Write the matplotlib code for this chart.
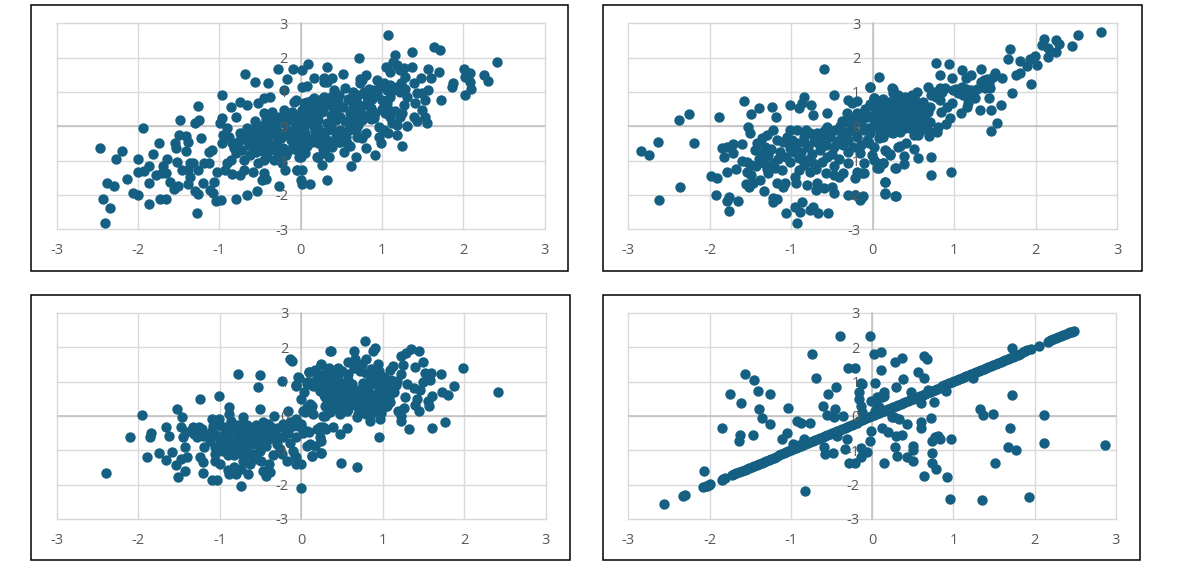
import numpy as np
import matplotlib
matplotlib.use('Agg')
import matplotlib.pyplot as plt
from matplotlib.patches import Rectangle

plt.rcParams['font.family'] = ['Open Sans', 'DejaVu Sans']

ticks = [-3, -2, -1, 0, 1, 2, 3]
tick_labels = ['-3', '-2', '-1', '0', '1', '2', '3']

pts_a = [(-2.47,-0.64),(-2.20,-0.72),(-2.27,-0.95),(-2.0,-0.96),(-2.14,-1.53),(-2.38,-1.64),(-2.30,-1.73),(-2.43,-2.12),
(-2.35,-2.39),(-2.40,-2.81),(-2.06,-1.95),(-2.0,-2.0),(-1.86,-2.26),(-1.86,-1.64),(-2.0,-1.34),(-1.93,-1.29),(-1.86,-1.17),
(-1.94,-0.06),(-1.81,-0.80),(-1.74,-0.49),(-1.64,-0.95),(-1.69,-1.17),(-1.78,-1.41),(-1.71,-1.37),(-1.65,-1.37),(-1.73,-2.12),
(-1.65,-2.11),(-1.61,-1.63),(-1.56,-1.83),(-1.51,-1.73),(-1.39,-1.68),(-1.52,-1.03),(-1.54,-0.50),(-1.53,-0.64),(-1.49,-0.24),
(-1.41,-0.28),(-1.38,-0.45),(-1.41,-0.72),(-1.48,0.17),(-1.30,0.11),(-1.25,0.17),(-1.26,0.59),(-1.23,-0.33),(-1.46,-1.27),
(-1.39,-1.27),(-1.36,-1.08),(-1.32,-1.08),(-1.36,-1.47),(-1.26,-1.27),(-1.19,-1.06),(-1.13,-1.08),(-1.20,-1.64),(-1.30,-1.87),
(-1.26,-1.96),(-1.28,-2.53),(-1.11,-1.85),(-1.08,-1.95),(-1.07,-1.61),(-1.04,-2.19),(-0.98,-2.15),(-0.79,-2.12),(-0.66,-2.0),
(-0.54,-1.87),(-0.27,-1.73),(-0.43,-1.53),(-0.47,-1.57),(-0.58,-1.34),(-0.45,-1.37),(-0.19,-1.27),(-0.05,-1.27),(0.02,-1.27),
(0,-1.56),(0.02,-1.69),(0.12,-1.68),(0.33,-1.57),(0.26,-1.13),(-1.13,-0.74),(-1.09,-0.69),(-0.97,0.90),(-0.69,1.52),(-0.56,1.29),
(-0.40,1.25),(-0.28,1.68),(-0.17,1.37),(-0.09,1.68),(0.02,1.64),(0.09,1.81),(0.16,1.41),(0.33,1.72),(0.08,1.17),(0.29,1.4),
(-0.97,0.23),(-0.99,0.11),(-0.91,-0.06),(-0.95,-0.25),(-0.97,-0.50),(-0.84,-0.50),(-0.86,0.57),(-0.80,0.28),(-0.74,0.72),
(-0.66,0.62),(-0.53,0.67),(-0.45,0.82),(-0.38,0.86),(-0.21,1.06),(-0.08,0.72),(-0.91,-1.08),(-0.86,-0.98),(-1.03,-1.32),
(-0.93,-1.27),(-0.84,-1.39),(-0.74,-1.42),(-0.70,-1.27),(-0.80,-0.79),(-0.70,-0.98),(-0.62,-0.83),(-0.74,-0.20),(-0.66,-0.06),
(-0.56,0.14),(-0.45,0.38),(-0.35,0.43),(-0.21,0.48),(-0.12,0.18),(-0.66,-0.40),(-0.53,-0.40),(-0.49,-0.59),(-0.58,-0.64),
(-0.41,-0.30),(-0.37,-0.01),(-0.29,0.09),(-0.21,-0.20),(-0.29,-0.40),(-0.12,-0.40),(-0.41,-0.88),(-0.33,-0.98),(-0.23,-1.08),
(-0.53,-1.08),(-0.45,-0.98),(-0.02,-0.88),(0.06,-0.79),(0,-0.59),(0.06,-0.40),(-0.04,-0.20),(0.04,-0.01),(-0.04,0.18),(0.08,0.38),
(0.04,0.67),(0.14,0.77),(0.25,0.57),(0.29,0.86),(0.21,0.38),(0.16,-0.01),(0.21,-0.40),(0.29,-0.20),(0.21,-0.88),(0.31,-0.64),
(1.07,2.65),(1.64,2.30),(1.72,2.22),(1.37,2.15),(1.16,2.07),(0.72,2.0),(2.42,1.87),(1.05,1.74),(1.37,1.72),(1.57,1.68),(1.70,1.57),
(2.01,1.66),(2.08,1.54),(2.25,1.49),(2.31,1.33),(2.10,1.10),(2.02,0.90),(1.87,1.25),(1.86,1.14),(1.73,0.76),(2.08,1.30),(2.02,1.45),
(0.52,1.52),(0.80,1.49),(0.73,1.38),(0,-0.11),(-0.08,-0.59),(0,-0.88),(-0.04,-1.27),(0.20,-0.88),(0.29,-0.79),(0.35,-0.88),(0.39,-0.59),
(0.47,-0.45),(0.53,-0.74),(0.61,-0.56),(0.68,-0.88),(0.62,-1.15),(0.80,-0.64),(0.91,-0.83),(0.99,-0.48),(1.25,-0.56),(1.18,-0.25),
(1.31,0.01),(1.56,0.09),(1.43,0.14),(1.53,0.28),(1.39,0.26),(1.49,0.48),(1.41,0.67),(1.31,0.86),(1.27,0.62),(1.22,0.28),(1.10,0.28),
(1.02,-0.11),(0.96,-0.01),(0.96,-0.30),(1.08,-0.20),(1.18,0.04),(1.04,0.38),(1.06,0.67),(1.0,0.77),(1.10,0.86),(0.90,0.23),(0.86,0.52),
(0.82,0.33),(0.80,-0.20),(0.69,-0.30),(0.76,-0.35),(0.71,0.04),(0.61,0.04),(0.55,-0.16),(0.49,-0.11),(0.71,0.38),(0.61,0.38),(0.69,0.67),
(0.61,0.77),(0.65,1.01),(0.82,0.86),(0.90,1.06),(0.76,1.35),(0.73,1.25),(0.94,1.35),(1.02,1.25),(1.10,1.20),(1.18,1.15),(1.24,1.25),
(1.29,1.45),(1.27,1.69),(1.18,1.79),(1.14,1.88),(1.22,1.64),(1.10,1.59),(1.40,1.25),(1.48,1.40),(1.61,1.40),(1.57,1.06),(1.43,0.96),
(1.53,0.77),(1.49,0.96),(0.55,1.11),(0.41,1.06),(0.47,0.91),(0.37,0.86),(0.27,0.82),(0.16,0.82),(0.08,0.72),(-0.06,0.77),(0.29,1.30),
(0.39,1.40),(0.33,1.30),(0.41,0.57),(0.49,0.57),(0.37,0.33),(0.43,0.18),(0.37,-0.01),(0.29,0.57),(0.18,0.48),(0.10,0.38),(0.12,0.09),
(0.04,0.18),(0.22,-0.06),(0.29,-0.20),(0.16,-0.30),(0.33,-0.40),(0.22,-0.50),(0.43,-0.30),(0.49,0.28),(0.57,-0.50),(0.29,-0.59),
(0.04,-0.40),(0.06,-0.59),(0.02,1.14),(-0.42,0.10),(-0.50,-0.20),(-0.60,-0.30),(-0.25,-0.70),(-0.05,-0.70),(-0.15,-0.10)]

# the packed middle of the first cloud
dense_a = [(-0.88,-0.30),(-0.82,-0.62),(-0.76,-0.42),(-0.72,-0.68),(-0.68,-0.22),(-0.64,-0.55),(-0.60,-0.12),(-0.58,-0.47),(-0.55,-0.75),(-0.52,-0.18),
(-0.50,0.02),(-0.48,-0.46),(-0.46,-0.72),(-0.44,-0.10),(-0.42,0.22),(-0.40,-0.50),(-0.38,-0.70),(-0.36,-0.22),(-0.34,0.20),(-0.32,-0.55),(-0.30,-0.10),
(-0.28,-0.80),(-0.26,0.28),(-0.24,-0.35),(-0.22,-0.62),(-0.20,0.10),(-0.18,-0.85),(-0.16,0.30),(-0.14,-0.25),(-0.12,-0.65),(-0.10,0.42),(-0.08,-0.30),
(-0.06,0.05),(-0.04,-0.50),(-0.02,0.32),(0.0,-0.30),(0.02,0.48),(0.04,0.20),(0.06,-0.20),(0.08,-0.58),(0.10,0.60),(0.12,0.15),(0.14,-0.45),(0.16,0.40),
(0.18,-0.15),(0.20,0.65),(0.22,0.18),(0.24,-0.30),(0.26,0.42),(0.28,-0.65),(0.30,0.72),(0.32,0.10),(0.34,-0.10),(0.36,0.62),(0.38,-0.55),(0.40,0.80),
(0.42,0.40),(0.44,-0.20),(0.46,0.70),(0.48,-0.45),(0.52,0.55),(0.54,0.15),(0.56,-0.30),(0.58,0.80),(0.60,-0.10),(0.64,0.55),(0.66,0.20),(0.68,-0.12),
(0.70,0.90),(0.74,0.55),(0.76,0.18),(0.78,1.00),(0.80,0.65),(0.84,1.10),(0.86,0.20),(0.88,0.80),(0.92,0.40),(0.94,0.95),(0.98,1.15),(1.00,0.50),
(1.06,1.05),(1.08,0.50),(1.12,0.10),(1.14,1.05),(1.16,0.45),(1.22,1.00),(1.25,0.40),(1.28,1.10)]

pts_b = [(-2.85,-0.72),(-2.74,-0.83),(-2.64,-0.45),(-2.62,-2.15),(-2.38,0.17),(-2.25,0.36),(-2.20,-0.50),(-2.36,-1.76),(-1.89,0.28),
(-1.58,0.75),(-1.50,0.36),(-1.40,0.52),(-1.24,0.55),(-1.19,0.28),(-1.53,-0.02),(-1.51,-0.20),(-1.85,-0.64),(-1.79,-0.61),(-1.71,-0.51),
(-1.61,-0.52),(-1.83,-0.90),(-1.71,-0.77),(-1.99,-1.45),(-1.91,-1.50),(-1.79,-1.33),(-1.68,-1.25),(-1.93,-2.0),(-1.77,-2.05),(-1.79,-2.19),
(-1.66,-2.18),(-1.76,-2.46),(-1.61,-1.0),(-1.54,-1.03),(-1.50,-1.13),(-1.54,-1.32),(-1.50,-1.42),(-1.43,-1.17),(-1.55,-1.69),(-1.52,-1.76),
(-1.47,-1.64),(-1.38,-1.56),(-1.34,-1.87),(-1.22,-2.08),(-1.18,-2.13),(-1.23,-2.21),(-1.06,-2.53),(-0.93,-2.82),(-0.95,-2.36),(-0.87,-2.21),
(-0.89,-2.49),(-0.77,-2.44),(-0.73,-2.34),(-0.67,-2.53),(-0.55,-2.53),(-1.18,-1.64),(-1.10,-1.76),(-1.08,-1.64),(-1.28,-1.37),(-1.20,-1.22),
(-1.11,-1.27),(-1.22,-1.08),(-1.34,-1.08),(-1.28,-0.83),(-1.38,-0.79),(-1.42,-0.50),(-1.32,-0.59),(-1.30,-0.25),(-1.22,-0.11),(-1.18,-0.40),
(-1.10,-0.45),(-1.14,-0.74),(-1.06,-0.88),(-1.01,-0.11),(-0.99,-0.40),(-1.01,-0.64),(-0.93,-0.11),(-0.85,-0.30),(-0.77,-0.20),(-0.79,-0.59),
(-0.69,-0.20),(-0.67,-0.50),(-0.56,-0.01),(-0.52,-0.30),(-0.48,-0.59),(-0.65,-0.69),(-0.56,-0.88),(-0.73,-1.08),(-0.81,-0.98),(-0.91,-0.93),
(-0.85,-1.13),(-0.91,-1.27),(-0.77,-1.32),(-0.95,-1.47),(-0.94,-1.64),(-0.81,-1.72),(-0.69,-1.64),(-0.70,-1.85),(-0.60,-1.81),(-0.50,-1.78),
(-0.48,-1.95),(-0.58,-1.37),(-0.48,-1.17),(-0.42,-1.47),(-0.36,-1.37),(-0.48,-1.42),(-0.31,-2.0),(-0.22,-2.0),(-0.12,-2.02),(-0.16,-2.15),
(-0.22,-1.51),(-0.11,-1.37),(-0.20,-1.32),(-0.30,-1.08),(-0.11,-1.08),(-0.30,-0.74),(-0.24,-0.59),(-0.16,-0.79),(-0.01,-0.83),(0.05,-1.08),
(0.13,-1.08),(0.07,-1.22),(0.15,-1.61),(0.15,-1.95),(0.27,-2.02),(0.27,-1.22),(0.21,-0.83),(0.16,-0.71),(0.31,-0.59),(0.01,-0.59),(-1.01,0.62),
(-0.91,0.52),(-0.84,0.84),(-0.87,0.67),(-0.76,0.62),(-0.73,0.33),(-0.56,0.40),(-0.47,0.91),(-0.60,1.67),(-0.30,0.77),(-0.20,0.75),(-0.26,0.67),
(-0.04,1.14),(0.07,1.45),(0.25,1.08),(0.02,0.82),(0.12,0.79),(0.25,0.96),(-0.32,0.38),(-0.20,0.38),(-0.38,0.14),(-0.24,0.09),(-0.32,-0.16),
(-0.20,-0.30),(-0.07,-0.40),(-0.11,-0.11),(-0.03,-0.20),(0.01,0.04),(-0.07,0.28),(0.05,0.38),(0.01,0.57),(0.13,0.57),(0.21,0.38),(0.17,0.09),
(0.09,-0.16),(0.25,-0.20),(0.29,0.09),(0.13,-0.30),(0.29,0.57),(2.80,2.76),(2.52,2.65),(2.44,2.33),(2.10,2.55),(2.25,2.50),(2.28,2.39),
(2.08,2.37),(2.15,2.27),(2.25,2.15),(2.15,2.03),(1.68,2.26),(1.66,1.95),(1.80,1.91),(1.93,1.95),(1.99,2.05),(2.01,1.78),(1.89,1.76),(1.81,1.54),
(1.76,1.49),(1.94,1.22),(1.71,0.98),(1.57,0.63),(1.45,0.48),(1.53,0.09),(1.45,-0.15),(1.31,0.48),(1.08,0.40),(1.15,0.55),(1.17,0.67),(1.25,0.82),
(1.21,1.06),(1.42,0.82),(1.44,1.11),(1.38,1.11),(1.33,1.30),(1.40,1.37),(1.50,1.56),(1.48,1.44),(1.59,1.40),(1.33,1.68),(1.21,1.49),(1.14,1.42),
(1.09,1.64),(0.97,1.40),(0.93,1.81),(0.77,1.84),(0.83,1.49),(0.99,1.06),(1.09,1.14),(1.11,0.91),(1.19,0.82),(0.82,1.11),(0.68,1.14),(0.72,0.91),
(0.82,0.77),(0.97,0.67),(0.91,0.55),(0.84,0.43),(0.95,0.24),(0.90,0.07),(0.80,-0.01),(0.79,-0.18),(0.69,-0.28),(0.71,-0.16),(0.56,-0.25),(0.50,-0.25),
(0.72,-0.90),(0.56,-0.91),(0.50,-0.67),(0.41,-0.50),(0.33,-0.57),(0.38,-0.86),(0.38,-1.10),(0.28,-1.22),(0.72,-1.41),(0.96,-1.33),(0.15,-1.61),
(0.15,-1.96),(0.28,-2.02),(0.21,-0.81),(0.15,-0.69),(0.13,-1.08),(0.05,-1.22),(0.01,-0.98),(-0.13,-1.37),(-0.13,-2.05),(-0.04,1.14),(0.24,1.11),
(0.31,0.91),(0.40,0.86),(0.54,1.01),(0.48,0.91),(0.01,0.82),(0.11,0.77),(0.05,0.52),(0.25,0.67),(0.38,0.57),(0.56,0.57),(0.62,0.57),(0.68,0.43),
(0.62,0.28),(0.52,0.28),(0.38,0.18),(0.25,0.33),(0.13,0.28),(0.01,0.18),(-0.09,0.38),(0.09,-0.06),(-0.03,-0.16),(0.21,-0.16),(0.33,-0.16),
(0.46,-0.06),(0.54,0.04),(0.07,-0.35),(-0.05,-0.50),(0.25,0.09)]

dense_b = [(-1.45,-0.70),(-1.40,-0.95),(-1.36,-0.35),(-1.30,-1.25),(-1.25,-0.65),(-1.16,-0.95),(-1.05,-0.30),(-1.02,-1.05),(-0.97,-0.75),(-0.93,-0.50),
(-0.88,-0.75),(-0.84,-0.45),(-0.82,-0.12),(-0.75,-0.80),(-0.72,-0.42),(-0.70,-1.25),(-0.64,-0.30),(-0.62,-1.05),(-0.60,-0.15),(-0.58,-0.55),(-0.54,-0.18),
(-0.50,-0.80),(-0.46,-0.10),(-0.44,-0.42),(-0.42,-0.95),(-0.40,0.02),(-0.38,-0.25),(-0.36,-0.55),(-0.34,0.12),(-0.30,-0.40),(-0.28,0.25),(-0.26,-0.05),
(-0.22,-0.18),(-0.18,0.20),(-0.14,-0.55),(-0.14,0.10),(-0.10,0.50),(-0.06,-0.05),(-0.04,0.65),(-0.02,0.30),(0.03,0.15),(0.03,0.75),(0.07,-0.02),(0.08,0.55),
(0.10,0.22),(0.15,0.42),(0.16,-0.10),(0.18,0.72),(0.20,0.15),(0.22,0.50),(0.23,-0.05),(0.26,0.80),(0.28,0.30),(0.30,-0.10),(0.32,0.62),(0.34,0.10),(0.35,0.42),
(0.38,0.80),(0.40,-0.05),(0.42,0.30),(0.44,0.65),(0.46,0.12),(0.48,0.45),(0.50,-0.15),(0.52,0.78),(0.54,0.20),(0.56,0.40),(0.58,-0.15),(0.60,0.10),(0.62,0.72),
(0.64,0.35),(0.65,-0.05),(0.70,0.55),(0.70,0.12),(0.75,1.0),(0.78,0.85),(0.85,1.0),(0.88,1.12),(1.02,1.10),(1.14,1.10),(1.15,0.85),(1.05,0.98),(1.22,0.90),
(1.28,1.08),(1.36,1.35),(1.42,1.25)]

pts_c = [(-2.39,-1.67),(-2.10,-0.62),(-1.95,0.03),(-1.86,-0.62),(-1.84,-0.50),(-1.89,-1.20),(-1.74,-1.09),(-1.66,-0.31),(-1.62,-0.58),(-1.66,-1.28),
(-1.59,-1.06),(-1.54,-1.43),(-1.51,-1.79),(-1.43,-1.59),(-1.52,0.19),(-1.46,-0.04),(-1.47,-0.33),(-1.24,0.50),(-1.01,0.57),(-0.89,0.27),(-0.78,1.23),
(-0.51,1.19),(-0.53,0.84),(-0.51,0.19),(-0.23,1.01),(-0.14,1.65),(-0.11,1.59),(-0.03,1.12),(-0.06,0.88),(-0.16,0.14),(-0.33,-0.01),(-0.74,-2.05),
(0,-2.09),(-1.10,-1.86),(-1.03,-1.86),(-1.20,-1.66),(-1.21,-1.35),(-1.24,-1.20),(-1.45,-0.62),(-1.41,-0.48),(-1.43,-0.91),(-1.40,-1.20),(-1.47,-1.25),
(-1.33,-0.33),(-1.25,-0.33),(-1.31,-0.52),(-1.21,-0.57),(-1.19,-0.91),(-1.10,-0.09),(-1.01,-0.09),(-1.10,-0.43),(-1.00,-0.67),(-1.06,-0.91),(-1.06,-1.11),
(-1.06,-1.30),(-1.00,-1.40),(-0.96,-1.01),(-0.88,-0.96),(-0.88,0.06),(-0.86,-0.14),(-0.92,-0.33),(-0.79,-0.43),(-0.88,-0.62),(-0.76,-0.72),(-0.82,-0.91),
(-0.72,-0.04),(-0.72,-0.33),(-0.63,-0.52),(-0.67,-0.91),(-0.59,-1.11),(-0.71,-1.30),(-0.63,-1.40),(-0.74,-1.54),(-0.65,-1.69),(-0.80,-1.69),(-0.88,-1.69),
(-0.90,-1.57),(-0.82,-1.50),(-0.49,-1.30),(-0.47,-1.59),(-0.43,-1.74),(-0.38,-1.64),(-0.39,-1.40),(-0.51,-1.01),(-0.43,-0.86),(-0.51,-0.62),(-0.43,-0.43),
(-0.47,-0.18),(-0.41,-0.23),(-0.32,-0.52),(-0.30,-0.82),(-0.22,-0.23),(-0.22,-0.62),(-0.24,-1.11),(-0.18,-1.30),(-0.06,-1.20),(-0.06,-1.40),(0,-1.40),
(-0.10,-1.01),(-0.14,-0.18),(-0.06,-0.09),(0,-0.28),(0.09,-0.48),(-0.06,-0.62),(0.07,-0.86),(0.13,-1.16),(0.17,-0.86),(0.24,-1.08),(0.23,-0.62),(0.19,-0.38),
(0.27,-0.33),(0.29,0.01),(0.15,0.06),(0.07,0.25),(0.13,0.30),(0.02,0.16),(0,0.50),(0.04,0.69),(0.07,0.98),(0.09,1.27),(0.17,1.32),(0.24,1.50),(0.33,1.37),
(0.35,1.88),(0.15,0.98),(0.23,0.74),(0.29,0.54),(0.31,0.30),(0.19,1.08),(0.31,1.03),(2.42,0.69),(1.99,1.39),(1.87,0.88),(1.71,1.22),(1.73,0.69),(1.80,0.61),
(1.76,-0.17),(1.60,-0.35),(1.32,-0.39),(0.95,-0.62),(0.49,-1.36),(0.68,-1.48),(0.78,2.19),(0.37,1.89),(0.65,1.89),(0.88,1.90),(0.90,1.99),(1.35,1.95),
(1.28,1.84),(1.22,1.74),(1.44,1.89),(1.49,1.56),(1.40,1.44),(1.25,1.48),(1.13,1.47),(1.09,1.34),(1.52,1.24),(1.59,1.25),(1.58,1.05),(1.49,0.98),(1.46,0.76),
(1.61,0.57),(1.55,0.45),(1.57,0.30),(1.42,0.50),(1.40,0.33),(1.44,0.14),(1.26,0.23),(1.19,0.16),(1.23,-0.14),(1.23,0.01),(1.38,0.83),(1.27,0.54),(1.30,0.93),
(1.23,1.22),(1.17,1.03),(1.09,0.74),(1.09,0.40),(1.03,0.50),(1.01,0.25),(0.97,-0.09),(0.84,-0.14),(0.80,0.05),(0.70,0.06),(0.68,-0.04),(0.56,-0.35),(0.48,-0.52),
(0.39,-0.33),(0.24,-0.72),(0.24,-1.08),(0.13,-1.16),(-0.08,-1.16),(0.11,-0.82),(0.07,-0.43),(0,-0.23),(0.23,-0.33),(0.31,-0.38),(0.27,0.01),(0.35,0.11),
(0.48,0.06),(0.58,0.20),(0.11,0.20),(0.05,0.11),(-0.06,0.90),(-0.04,1.13),(0.09,1.27),(0.17,1.35),(0.24,1.49),(0.34,1.40),(0.45,1.40),(0.58,1.56),(0.66,1.66),
(0.80,1.66),(0.94,1.50),(0.86,1.37),(0.72,1.32),(0.58,1.22),(0.45,1.13),(0.33,1.13),(0.21,1.03),(0.07,0.93),(0.15,0.88),(0.27,0.79),(0.37,0.88),(0.50,0.83),
(0.62,0.93),(0.74,0.83),(0.84,1.03),(0.95,1.13),(1.03,0.98),(0.95,0.79),(0.84,0.64),(0.72,0.45),(0.64,0.54),(0.52,0.40),(0.39,0.40),(0.31,0.59),(0.35,0.74),
(0.46,0.59),(0.91,0.45),(0.97,0.30),(0.84,0.30),(0.78,0.54),(1.03,0.69),(0.93,0.16),(0.29,0.30),(0.39,0.20),(0.11,0.35)]

dense_c = [(-1.35,-0.45),(-1.28,-0.62),(-1.22,-0.38),(-1.15,-0.55),(-1.12,-0.72),(-1.08,-0.28),(-1.04,-0.55),(-1.00,-0.88),(-0.98,-0.30),(-0.94,-0.52),
(-0.92,-0.78),(-0.90,-1.15),(-0.86,-0.35),(-0.84,-0.70),(-0.82,-1.15),(-0.78,-0.25),(-0.76,-0.55),(-0.74,-0.95),(-0.72,-1.15),(-0.70,-0.50),(-0.68,-0.75),
(-0.66,-0.25),(-0.64,-0.70),(-0.62,-1.15),(-0.60,-0.40),(-0.58,-0.82),(-0.56,-0.25),(-0.56,-0.60),(-0.54,-1.25),(-0.50,-0.45),(-0.48,-0.78),(-0.46,-0.30),
(-0.45,-0.55),(-0.40,-0.68),(-0.38,-0.28),(-0.36,-0.48),(-0.34,-1.15),(-0.30,-0.35),(-0.28,-0.60),(-0.26,-0.95),(-0.20,-0.38),(-0.16,-0.50),(-0.14,-0.80),
(-0.10,-0.28),(-0.04,-0.30),(0.02,-0.50),(0.20,0.85),(0.25,1.20),(0.28,0.60),(0.32,0.95),(0.36,0.60),(0.38,1.20),(0.40,0.78),(0.42,1.00),(0.44,0.45),(0.46,0.95),
(0.48,0.72),(0.50,1.30),(0.50,0.50),(0.54,0.95),(0.55,0.70),(0.56,0.15),(0.58,1.05),(0.60,0.65),(0.62,0.40),(0.65,1.40),(0.66,0.75),(0.68,0.30),(0.72,0.60),
(0.74,1.50),(0.76,0.95),(0.78,0.72),(0.80,1.25),(0.82,0.45),(0.84,0.90),(0.86,1.20),(0.88,0.60),(0.90,0.25),(0.92,0.95),(0.94,0.65),(0.96,1.30),(0.98,0.45),
(1.00,0.80),(1.02,1.15),(1.05,0.30),(1.06,0.85),(1.08,0.55),(1.10,1.05),(1.14,0.70),(1.16,0.90),(0.98,0.10),(0.86,0.05),(0.76,0.20),(0.52,0.22),(0.44,0.25)]

# points sitting on the diagonal, x and y read as the same value
diag_d = [-2.56,-2.33,-2.30,-2.08,-2.05,-2.03,-2.01,-1.99,-1.85,-1.83,-1.81,-1.73,-1.70,-1.67,-1.64,-1.60,-1.57,-1.54,-1.51,-1.48,-1.45,-1.42,-1.39,-1.36,
-1.33,-1.30,-1.27,-1.24,-1.21,-1.18,-1.15,-1.12,-1.09,-1.06,-1.03,-1.00,-0.97,-0.94,-0.91,-0.88,-0.85,-0.82,-0.79,-0.76,-0.73,-0.70,-0.67,-0.64,-0.61,-0.58,
-0.55,-0.52,-0.49,-0.46,-0.43,-0.40,-0.37,-0.34,-0.31,-0.28,-0.25,-0.22,-0.19,-0.16,-0.13,-0.10,-0.07,-0.04,-0.01,0.02,0.05,0.08,0.11,0.14,0.17,0.20,0.23,0.26,
0.29,0.32,0.35,0.38,0.41,0.44,0.47,0.50,0.53,0.56,0.59,0.62,0.65,0.68,0.71,0.74,0.77,0.80,0.83,0.86,0.89,0.92,0.95,0.98,1.01,1.04,1.07,1.10,1.13,1.16,1.19,1.22,
1.25,1.28,1.31,1.34,1.37,1.40,1.43,1.46,1.49,1.52,1.55,1.58,1.61,1.64,1.67,1.70,1.73,1.76,1.79,1.82,1.85,1.88,1.91,1.95,2.05,2.16,2.18,2.20,2.23,2.26,2.29,2.32,
2.35,2.38,2.41,2.44,2.46,2.48]

pts_d = [(-2.07,-1.59),(-0.82,-2.17),(-1.85,-0.35),(-1.62,-0.54),(-1.64,-0.74),(-1.46,-0.54),(-1.26,-0.24),(-1.36,-0.05),(-1.39,0.19),(-1.61,0.38),(-1.75,0.65),
(-1.56,1.23),(-1.45,1.04),(-1.41,0.73),(-1.26,0.65),(-1.03,0.23),(-1.11,-0.66),(-1.05,-0.50),(-0.92,-0.16),(-0.88,-0.19),(-0.77,-0.19),(-0.74,1.82),(-0.69,1.12),
(-0.54,0.65),(-0.44,0.84),(-0.60,0.30),(-0.55,0.03),(-0.46,0.19),(-0.47,-0.04),(-0.36,-0.01),(-0.39,2.32),(-0.03,2.32),(-0.30,1.39),(-0.21,1.39),(0.02,1.82),
(0.11,1.85),(0.28,1.58),(0.11,1.35),(-0.14,0.96),(0.03,0.96),(-0.16,0.69),(-0.16,0.50),(-0.14,0.30),(-0.12,0.11),(0.29,0.84),(0.14,0.69),(0.06,0.54),(-0.02,0.45),
(0.12,0.54),(0.06,0.30),(0.27,-0.04),(0.12,-0.35),(0.19,-0.47),(0.29,-0.58),(-0.02,-0.43),(-0.03,-0.74),(-0.31,-0.66),(-0.34,-0.97),(-0.43,-0.57),(-0.59,-0.89),
(-0.58,-1.11),(-0.48,-1.09),(-0.29,-1.36),(-0.21,-1.36),(-0.14,-1.20),(-0.14,-0.93),(-0.06,-1.06),(0.15,-1.36),(0.28,-0.89),(0.31,-1.17),(0.37,1.70),(0.64,1.75),
(0.68,1.65),(0.56,1.27),(0.64,1.12),(0.38,1.08),(0.48,0.71),(0.60,0.38),(0.76,0.42),(0.73,-0.05),(0.43,-0.24),(0.33,-0.09),(0.24,-0.02),(0.60,-0.18),(0.60,-0.35),
(0.37,-0.54),(0.50,-0.86),(0.50,-0.99),(0.43,-1.20),(0.50,-1.32),(0.74,-1.09),(0.74,-1.36),(0.79,-1.55),(0.64,-1.75),(0.92,-1.79),(0.96,-2.41),(1.35,-2.45),(1.93,-2.37),
(1.51,-1.36),(1.67,-0.89),(1.77,-0.99),(1.69,-0.35),(2.11,-0.78),(2.11,0.03),(1.49,0.07),(1.33,0.19),(1.36,0.03),(1.72,0.61),(2.87,-0.85),(1.72,1.97),(0.74,-0.72),
(0.81,-0.59),(0.83,-0.67),(0.77,-0.62),(0.97,-0.66),(0.91,0.74),(1.24,1.11),(0.69,0.76),(0.49,0.54),(-0.13,0.93),(0.04,0.45),(0.10,0.54),(0.14,0.59),(0.04,0.16),
(0.08,0.25),(-0.97,-0.83),(-0.90,-0.85),(-0.84,-0.67)]

fig = plt.figure(figsize=(12, 5.72), dpi=100)
W, H = 1200, 572


def add_panel(frame, area, xy):
    # frame and area given as left, right, top, bottom in pixels from the top left corner
    fig.add_artist(Rectangle((frame[0]/W, 1-frame[3]/H), (frame[1]-frame[0])/W, (frame[3]-frame[2])/H,
                             transform=fig.transFigure, fill=False, ec='black', lw=1.1))
    ax = fig.add_axes([area[0]/W, 1-area[3]/H, (area[1]-area[0])/W, (area[3]-area[2])/H])
    ax.patch.set_alpha(0)
    for t in ticks:
        ax.axvline(t, color='#d9d9d9', lw=1.0, zorder=0, clip_on=False)
        ax.axhline(t, color='#d9d9d9', lw=1.0, zorder=0, clip_on=False)
    ax.axhline(0, color='#bfbfbf', lw=1.1, zorder=0.5)
    ax.scatter(xy[0], xy[1], s=56, color='#156082', linewidths=0, zorder=1, clip_on=False)
    ax.set_xlim(-3, 3)
    ax.set_ylim(-3, 3)
    for side in ['top', 'right', 'bottom']:
        ax.spines[side].set_visible(False)
    ax.spines['left'].set_position(('data', 0))
    ax.spines['left'].set_color('#bfbfbf')
    ax.spines['left'].set_linewidth(1.1)
    ax.spines['left'].set_zorder(0.5)
    ax.set_xticks(ticks, tick_labels)
    ax.set_yticks(ticks, tick_labels)
    ax.tick_params(axis='x', length=0, pad=10, labelsize=10.5, labelcolor='#595959')
    ax.tick_params(axis='y', length=0, pad=9, labelsize=10.5, labelcolor='#595959')
    return ax


add_panel((31, 568, 5, 271.5), (56.7, 544.5, 23.3, 229.3), np.array(pts_a + dense_a).T)
add_panel((603, 1141.5, 5, 271.5), (628.3, 1117.3, 23.3, 229.3), np.array(pts_b + dense_b).T)
add_panel((31, 570, 295, 560), (56.7, 545.7, 313, 519), np.array(pts_c + dense_c).T)
xy_d = np.hstack([np.array([diag_d, diag_d]), np.array(pts_d).T])
add_panel((603, 1140, 295, 560), (628.3, 1116, 313, 519), xy_d)

fig.savefig('out.png', dpi=100)
